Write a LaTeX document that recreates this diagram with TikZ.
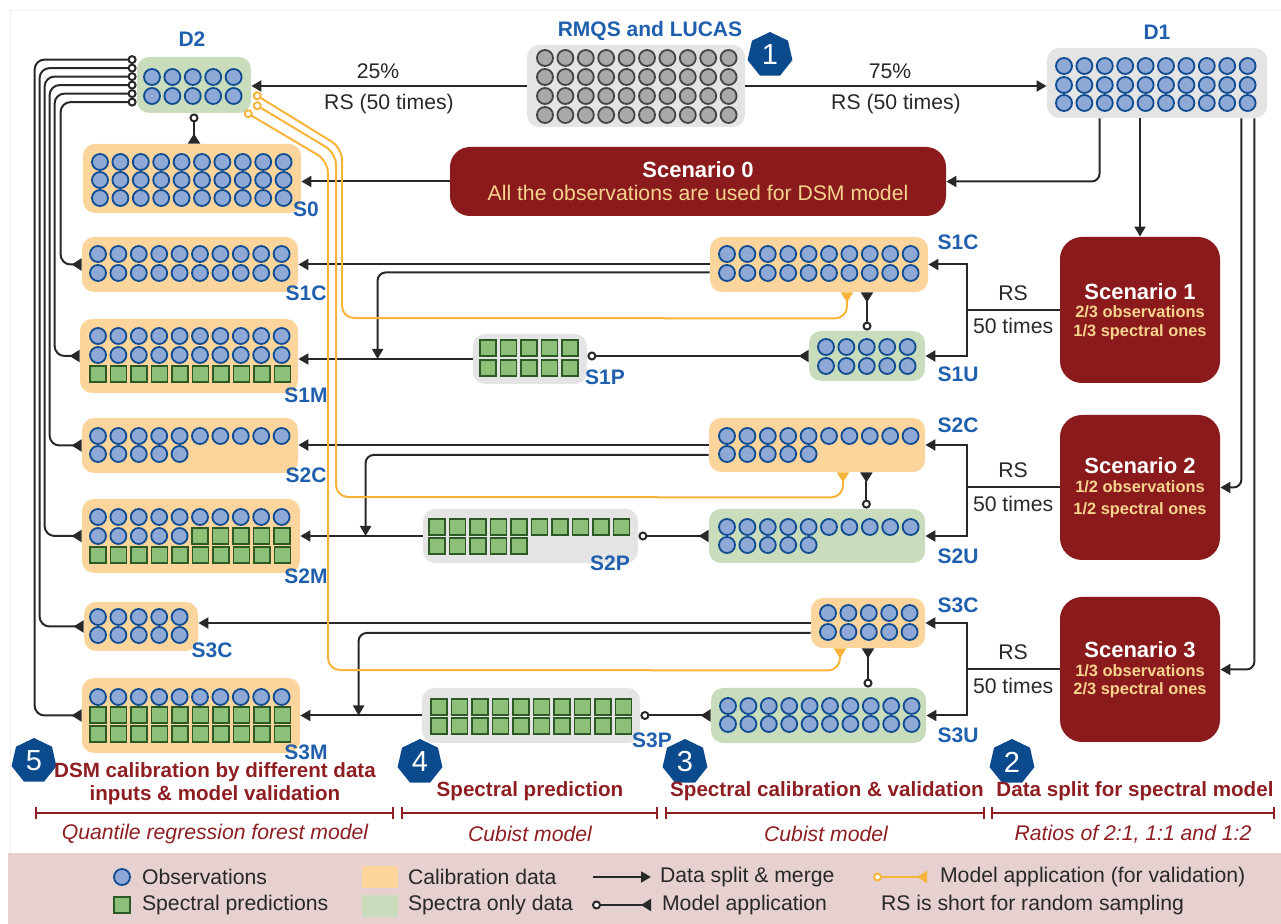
\documentclass[tikz,border=0pt]{standalone}
\usepackage{fontspec}
\setmainfont{Liberation Sans}
\usetikzlibrary{arrows.meta,positioning,calc,fit,shapes.geometric}
\definecolor{obsfill}{HTML}{8EA9D6}
\definecolor{obsline}{HTML}{0F4C92}
\definecolor{specfill}{HTML}{8CBF78}
\definecolor{specline}{HTML}{2D5A24}
\definecolor{rawfill}{HTML}{A9A9A9}
\definecolor{rawline}{HTML}{454545}
\definecolor{calfill}{HTML}{FCD59D}
\definecolor{onlyfill}{HTML}{C9DCBC}
\definecolor{greyfill}{HTML}{E4E4E4}
\definecolor{scenred}{HTML}{8B1A1C}
\definecolor{scentxt}{HTML}{F6D48E}
\definecolor{valline}{HTML}{F8B43A}
\definecolor{lblblue}{HTML}{1F5FAE}
\definecolor{badgeblue}{HTML}{0B4A8C}
\definecolor{legfill}{HTML}{E6D0D0}
\definecolor{secred}{HTML}{8E1E22}
\definecolor{txtgrey}{HTML}{282828}
\tikzset{
  obs/.style    = { draw=obsline, fill=obsfill, line width=0.9pt },
  sp/.style     = { draw=specline, fill=specfill, line width=0.9pt },
  raw/.style    = { draw=rawline, fill=rawfill, line width=0.9pt },
  calbox/.style = { fill=calfill, rounded corners=6pt, inner sep=0pt },
  onlybox/.style= { fill=onlyfill, rounded corners=6pt, inner sep=0pt },
  greybox/.style= { fill=greyfill, rounded corners=6pt, inner sep=0pt },
  scen/.style   = { fill=scenred, rounded corners=11pt, inner sep=0pt },
  sctitle/.style= { text=white, font=\bfseries\fontsize{11}{12}\selectfont },
  scsub/.style  = { text=scentxt, font=\bfseries\fontsize{8.2}{10}\selectfont },
  lbl/.style    = { text=lblblue, font=\bfseries\fontsize{10.5}{12}\selectfont },
  txt/.style    = { text=txtgrey, font=\fontsize{10.6}{12}\selectfont },
  split/.style  = { line width=1pt, draw=txtgrey, -{Triangle[length=5pt,width=5.5pt]} },
  apply/.style  = { line width=1pt, draw=txtgrey,
    {Circle[fill=white,length=4.5pt]}-{Triangle[reversed,length=5pt,width=6pt]} },
  valid/.style  = { apply, draw=valline },
  badge/.style  = { regular polygon, regular polygon sides=7, fill=badgeblue, text=white,
    minimum size=23pt, inner sep=0pt, font=\fontsize{14.5}{14.5}\selectfont },
  sect/.style   = { text=secred, align=center, font=\bfseries\fontsize{10.3}{11.5}\selectfont },
  sub/.style    = { text=secred, font=\itshape\fontsize{10.6}{12}\selectfont },
  brk/.style    = { draw=secred, line width=1pt, {Bar[width=6pt]}-{Bar[width=6pt]} }
}
% rows of observations (circles) and spectral predictions (squares)
\newcommand\dotrow[4]{\foreach \k in {1,...,#4}{\filldraw[#1] ({#2+20.4*(\k-1)},#3) circle (4pt);}}
\newcommand\sqrow[3]{\foreach \k in {1,...,#3}{\filldraw[sp] ({#1+20.5*(\k-1)},#2) ++(-4pt,-4pt) rectangle ++(8pt,8pt);}}

\begin{document}
\begin{tikzpicture}[x=0.5pt,y=-0.5pt]
    \useasboundingbox (0,0) rectangle (1281,924);
    \draw[black!6] (10,853) -- (10,10) -- (1281,10);
    \fill[legfill] (8,853) rectangle (1281,924);

    % data sources
    \node[greybox, fit={(527,45) (745,127)}] (rmqs) {};
    \node[lbl] (trmqs) at (650,31) {RMQS and LUCAS};
    \foreach \r in {58,77,96,115} {\dotrow{raw}{545}{\r}{10}}
    \node[badge] (n1) at (770,55) {1};
    \node[greybox, fit={(1047,48) (1267,118)}] (d1) {};
    \node[lbl] (td1) at (1157,32) {D1};
    \foreach \r in {66,85,103} {\dotrow{obs}{1064}{\r}{10}}
    \node[onlybox, fit={(137,57) (251,113)}] (d2) {};
    \node[lbl] (td2) at (192,39) {D2};
    \foreach \r in {77,96} {\dotrow{obs}{152}{\r}{5}}

    % scenarios
    \node[scen, rounded corners=10pt, fit={(450,147) (946,216)}] (scen0) {};
    \node[sctitle] (sc0a) at (698,170) {Scenario 0};
    \node[txt, text=scentxt] (sc0b) at (698,193) {All the observations are used for DSM model};
    \node[scen, fit={(1060,237) (1220,383)}] (scen1) {};
    \node[sctitle] (sc1a) at (1140,292) {Scenario 1};
    \node[scsub] (sc1b) at (1140,312) {2/3 observations};
    \node[scsub] (sc1c) at (1140,332) {1/3 spectral ones};
    \node[scen, fit={(1060,415) (1220,560)}] (scen2) {};
    \node[sctitle] (sc2a) at (1140,466) {Scenario 2};
    \node[scsub] (sc2b) at (1140,487) {1/2 observations};
    \node[scsub] (sc2c) at (1140,510) {1/2 spectral ones};
    \node[scen, fit={(1060,597) (1220,742)}] (scen3) {};
    \node[sctitle] (sc3a) at (1140,650) {Scenario 3};
    \node[scsub] (sc3b) at (1140,671) {1/3 observations};
    \node[scsub] (sc3c) at (1140,690) {2/3 spectral ones};

    % spectral side
    \node[calbox, fit={(710,237) (928,292)}] (rS1C) {};
    \foreach \r in {254,273} {\dotrow{obs}{727}{\r}{10}}
    \node[lbl] (trS1C) at (958,242) {S1C};
    \node[onlybox, fit={(809,331) (925,381)}] (rS1U) {};
    \foreach \r in {347,366} {\dotrow{obs}{826}{\r}{5}}
    \node[lbl] (trS1U) at (958,374) {S1U};
    \node[greybox, fit={(473,334) (587,384)}] (S1P) {};
    \sqrow{488}{348}{5} \sqrow{488}{368}{5}
    \node[lbl] (tS1P) at (605,377) {S1P};

    \node[calbox, fit={(709,418) (925,472)}] (rS2C) {};
    \dotrow{obs}{727}{436}{10} \dotrow{obs}{727}{454}{5}
    \node[lbl] (trS2C) at (958,425) {S2C};
    \node[onlybox, fit={(709,509) (925,563)}] (rS2U) {};
    \dotrow{obs}{727}{527}{10} \dotrow{obs}{727}{545}{5}
    \node[lbl] (trS2U) at (958,556) {S2U};
    \node[greybox, fit={(423,509) (638,563)}] (S2P) {};
    \sqrow{437}{527}{10} \sqrow{437}{546}{5}
    \node[lbl] (tS2P) at (610,563) {S2P};

    \node[calbox, fit={(811,598) (925,648)}] (rS3C) {};
    \foreach \r in {613,632} {\dotrow{obs}{828}{\r}{5}}
    \node[lbl] (trS3C) at (958,605) {S3C};
    \node[onlybox, fit={(711,688) (926,743)}] (rS3U) {};
    \foreach \r in {706,724} {\dotrow{obs}{728}{\r}{10}}
    \node[lbl] (trS3U) at (958,735) {S3U};
    \node[greybox, fit={(422,688) (640,743)}] (S3P) {};
    \sqrow{439}{707}{10} \sqrow{439}{726}{10}
    \node[lbl] (tS3P) at (652,740) {S3P};

    % DSM side
    \node[calbox, fit={(83,144) (301,213)}] (s0) {};
    \foreach \r in {162,180,198} {\dotrow{obs}{100}{\r}{10}}
    \node[lbl] (ts0) at (306,209) {S0};
    \node[calbox, fit={(82,237) (298,292)}] (lS1C) {};
    \foreach \r in {254,273} {\dotrow{obs}{98}{\r}{10}}
    \node[lbl] (tlS1C) at (306,293) {S1C};
    \node[calbox, fit={(80,319) (298,393)}] (lS1M) {};
    \foreach \r in {336,355} {\dotrow{obs}{98}{\r}{10}}
    \sqrow{98}{374}{10}
    \node[lbl] (tlS1M) at (306,395) {S1M};
    \node[calbox, fit={(82,418) (298,473)}] (lS2C) {};
    \dotrow{obs}{98}{436}{10} \dotrow{obs}{98}{454}{5}
    \node[lbl] (tlS2C) at (306,475) {S2C};
    \node[calbox, fit={(82,499) (300,573)}] (lS2M) {};
    \dotrow{obs}{98}{517}{10} \dotrow{obs}{98}{536}{5}
    \sqrow{200}{536}{5} \sqrow{98}{555}{10}
    \node[lbl] (tlS2M) at (306,576) {S2M};
    \node[calbox, fit={(84,602) (198,651)}] (lS3C) {};
    \foreach \r in {617,635} {\dotrow{obs}{98}{\r}{5}}
    \node[lbl] (tlS3C) at (212,650) {S3C};
    \node[calbox, fit={(82,678) (300,753)}] (lS3M) {};
    \dotrow{obs}{98}{697}{10} \sqrow{98}{715}{10} \sqrow{98}{734}{10}
    \node[lbl] (tlS3M) at (306,752) {S3M};

    % splits
    \draw[split] (rmqs.west) -- (rmqs.west -| d2.east)
      node[txt, pos=.54, above] {25\%} node[txt, pos=.5, below] {RS (50 times)};
    \draw[split] (rmqs.east) -- (rmqs.east -| d1.west)
      node[txt, pos=.48, above] {75\%} node[txt, pos=.5, below] {RS (50 times)};
    \draw[split, rounded corners=4pt] ($(d1.south west)+(53,0)$) |- (scen0.east);
    \draw[split] (d1.south -| scen1.north) -- (scen1.north);
    \draw[split, rounded corners=4pt] ($(d1.south east)+(-26,0)$) |- (scen2.east);
    \draw[split, rounded corners=4pt] ($(d1.south east)+(-13,0)$) |- (scen3.east);
    \draw[split] (scen0.west) -- (scen0.west -| s0.east);

    \foreach \s in {1,2,3} {
      \draw[line width=1pt, draw=txtgrey] (scen\s.west) -- ++(-93,0) coordinate (b\s);
      \draw[split] (b\s) |- (rS\s C.east);
      \draw[split] (b\s) |- (rS\s U.east);
      \node[txt] (rs\s) at ($(b\s)!.5!(scen\s.west)+(0,-17)$) {RS};
      \node[txt] (ti\s) at ($(b\s)!.5!(scen\s.west)+(0,16)$) {50 times};
    }

    \coordinate (m1) at ($(S1P.west)+(-95,0)$);
    \coordinate (m2) at ($(S2P.west)+(-57,0)$);
    \coordinate (m3) at ($(S3P.west)+(-63,0)$);
    \draw[split] (rS1C.west) -- (rS1C.west -| lS1C.east);
    \draw[split, rounded corners=4pt] ($(rS1C.west)+(0,8)$) -| (m1);
    \draw[split] (S1P.west) -- (S1P.west -| lS1M.east);
    \draw[split] (rS2C.west) -- (rS2C.west -| lS2C.east);
    \draw[split, rounded corners=4pt] ($(rS2C.west)+(0,10)$) -| (m2);
    \draw[split] (S2P.west) -- (S2P.west -| lS2M.east);
    \draw[split] (rS3C.west) -- (rS3C.west -| lS3C.east);
    \draw[split, rounded corners=4pt] ($(rS3C.west)+(0,10)$) -| (m3);
    \draw[split] (S3P.west) -- (S3P.west -| lS3M.east);

    % model application
    \draw[apply] (d2.south) -- (d2.south |- s0.north);
    \draw[apply] (rS1U.north) -- (rS1U.north |- rS1C.south);
    \draw[apply] ($(rS2U.north east)+(-59,0)$) -- ($(rS2C.south east)+(-59,0)$);
    \draw[apply] (rS3U.north -| rS3C.south) -- (rS3C.south);
    \draw[apply] (rS1U.west -| S1P.east) -- (rS1U.west);
    \draw[apply] (S2P.east) -- (rS2U.west);
    \draw[apply] (S3P.east) -- (rS3U.west);
    \foreach \dy/\dx/\tgt in {3/47/lS3M, 11.5/44/lS3C, 20/37/lS2M, 28.5/32/lS2C, 37/25/lS1M, 45.5/21/lS1C}
      \draw[apply, rounded corners=5pt] ($(d2.north west)+(0,\dy)$) -| ($(\tgt.west)+(-\dx,0)$) -- (\tgt.west);

    % validation
    \draw[valid, rounded corners=6pt] ($(d2.south east)+(2,-20)$) -- (342,148) -- (342,318)
      -- ($(rS1C.south)+(28,26)$) -- ($(rS1C.south)+(28,0)$);
    \draw[valid, rounded corners=6pt] ($(d2.south east)+(2,-10)$) -- (336,153) -- (336,497)
      -- ($(rS2C.south)+(26,25)$) -- ($(rS2C.south)+(26,0)$);
    \draw[valid, rounded corners=6pt] ($(d2.south east)+(-7,-2)$) -- (328,161) -- (328,670)
      -- ($(rS3C.south)+(-28,22)$) -- ($(rS3C.south)+(-28,0)$);

    % steps
    \node[badge] (n5) at (34,761) {5};
    \node[badge] (n4) at (420,762) {4};
    \node[badge] (n3) at (685,762) {3};
    \node[badge] (n2) at (1012,762) {2};
    \node[sect] (t5) at (215,784) {DSM calibration by different data\\inputs \& model validation};
    \node[sect] (t4) at (530,791) {Spectral prediction};
    \node[sect] (t3) at (827,791) {Spectral calibration \& validation};
    \node[sect] (t2) at (1135,791) {Data split for spectral model};
    \draw[brk] (35,813) -- (394,813);
    \draw[brk] (401,813) -- (658,813);
    \draw[brk] (665,813) -- (985,813);
    \draw[brk] (991,813) -- (1275,813);
    \node[sub] (u5) at (215,834) {Quantile regression forest model};
    \node[sub] (u4) at (530,834) {Cubist model};
    \node[sub] (u3) at (826,834) {Cubist model};
    \node[sub] (u2) at (1133,834) {Ratios of 2:1, 1:1 and 1:2};

    % legend
    \filldraw[obs] (122,877) circle (4pt);
    \node[txt, anchor=west] (lgobs) at (135,877) {Observations};
    \filldraw[sp] (122,905) ++(-4pt,-4pt) rectangle ++(8pt,8pt);
    \node[txt, anchor=west] (lgsp) at (135,905) {Spectral predictions};
    \fill[calfill] (362,866) rectangle (398,888);
    \node[txt, anchor=west] (lgcal) at (401,877) {Calibration data};
    \fill[onlyfill] (362,895) rectangle (398,917);
    \node[txt, anchor=west] (lgonly) at (401,905) {Spectra only data};
    \coordinate (la1) at (593,877); \coordinate (la2) at (651,877);
    \draw[split] (la1) -- (la2);
    \node[txt, anchor=west] (lgsplit) at (653,877) {Data split \& merge};
    \coordinate (lb1) at (592,905); \coordinate (lb2) at (651,905);
    \draw[apply] (lb1) -- (lb2);
    \node[txt, anchor=west] (lgapp) at (655,905) {Model application};
    \coordinate (lc1) at (873,877); \coordinate (lc2) at (927,877);
    \draw[valid] (lc1) -- (lc2);
    \node[txt, anchor=west] (lgval) at (933,877) {Model application (for validation)};
    \node[txt, anchor=west] (lgrs) at (874,905) {RS is short for random sampling};
\end{tikzpicture}
\end{document}
